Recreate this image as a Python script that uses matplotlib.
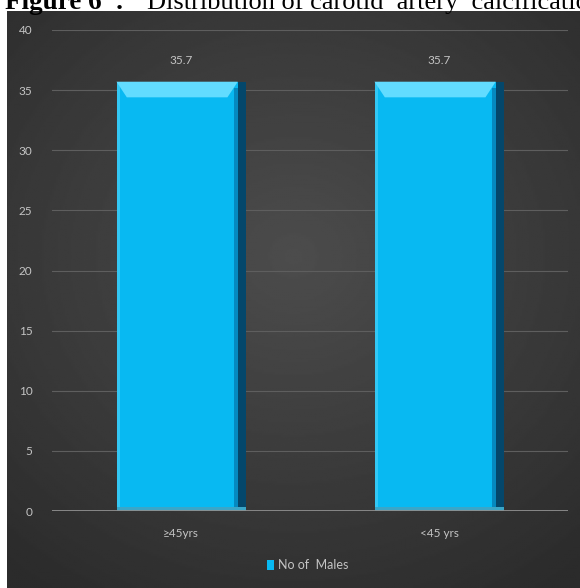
import numpy as np
import matplotlib.pyplot as plt
from matplotlib.patches import Rectangle, Polygon

# data
categories = ["\u226545yrs", "<45 yrs"]
males = [35.7, 35.7]
yticks = [0, 5, 10, 15, 20, 25, 30, 35, 40]
series_name = "No of  Males"

bar_color = "#08b9f2"
text_gray = "#c4c4c4"

fig = plt.figure(figsize=(5.8, 5.88), dpi=100)
fig.patch.set_facecolor("white")

# dark panel with a soft radial shading
bg = fig.add_axes([7 / 580, 0, 1 - 7 / 580, 577 / 588])
yy, xx = np.mgrid[-1:1:300j, -1:1:300j]
r = np.sqrt((xx * 0.9) ** 2 + (yy + 0.15) ** 2)
shade = 0.17 + 0.13 * np.clip(1 - r / 1.4, 0, 1)
bg.imshow(shade, cmap="gray", vmin=0, vmax=1, aspect="auto",
          extent=[0, 1, 0, 1], interpolation="bilinear")
bg.set_axis_off()

# caption line, partly cut off by the top edge
fig.text(5 / 580, 1 - 9 / 588, "Figure 6  :", fontfamily="Liberation Serif",
         fontsize=19.5, fontweight="bold", va="baseline", ha="left")
fig.text(147 / 580, 1 - 9 / 588, "Distribution of carotid  artery  calcificatio",
         fontfamily="Liberation Serif", fontsize=19, va="baseline", ha="left")

ax = fig.add_axes([52 / 580, 1 - 511 / 588, 516 / 580, 481 / 588])
ax.set_facecolor("none")
x = np.arange(len(categories))
w = 0.5

bars = ax.bar(x, males, width=w, color=bar_color, zorder=3, label=series_name)

# bevel: dark right side, light top rim with slanted corners
for xi, v in zip(x, males):
    left, right = xi - w / 2, xi + w / 2
    ax.add_patch(Rectangle((right - 0.03, 0), 0.03, v, color="#04476b",
                           zorder=4, lw=0))
    ax.add_patch(Rectangle((right - 0.045, 0), 0.015, v - 0.5, color="#0589c0",
                           zorder=4, lw=0))
    ax.add_patch(Rectangle((left, 0), 0.015, v, color="#33c8f5",
                           zorder=4, lw=0))
    ax.add_patch(Polygon([(left, v), (right - 0.03, v), (right - 0.07, v - 1.3),
                          (left + 0.04, v - 1.3)], closed=True,
                         color="#62dcff", zorder=5, lw=0))
    ax.add_patch(Rectangle((xi - w / 2, 0), w, 0.35, color="#3aa6c8",
                           zorder=5, lw=0))
    ax.text(xi, v + 1.3, "%.1f" % v, ha="center", va="bottom",
            color=text_gray, fontsize=8.5, fontfamily="Lato")

ax.set_xlim(-0.5, 1.5)
ax.set_ylim(0, 40)
ax.set_yticks(yticks)
ax.set_xticks(x)
ax.set_xticklabels(categories)
ax.grid(axis="y", color="#5e5e5e", linewidth=0.8, zorder=0)
ax.axhline(0, color="#8e8e8e", linewidth=1.3, zorder=6)
for s in ax.spines.values():
    s.set_visible(False)
ax.tick_params(length=0, colors=text_gray, labelsize=8.5)
ax.tick_params(axis="y", pad=14)
ax.tick_params(axis="x", pad=12)
for lbl in ax.get_xticklabels() + ax.get_yticklabels():
    lbl.set_fontfamily("Lato")

leg = fig.legend(handles=[bars], labels=[series_name], loc="center",
                 bbox_to_anchor=(0.53, 23 / 588), frameon=False,
                 handlelength=0.6, handleheight=0.9, handletextpad=0.3,
                 prop={"family": "Lato", "size": 9})
for t in leg.get_texts():
    t.set_color(text_gray)

fig.savefig("out.png", dpi=100, facecolor=fig.get_facecolor())
